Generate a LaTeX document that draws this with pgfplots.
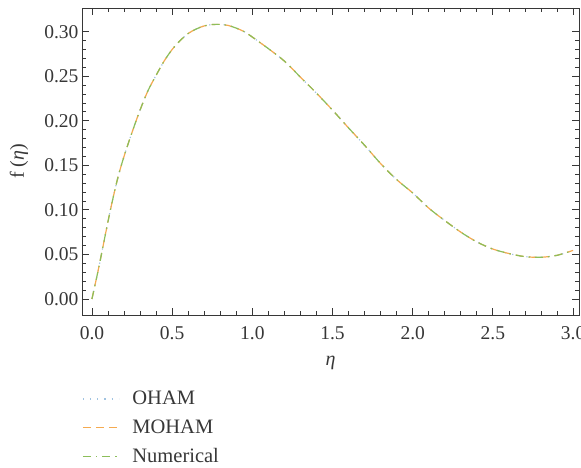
\documentclass[border=0pt]{standalone}
\usepackage{pgfplots}
\usepackage{pgfplotstable}
\pgfplotsset{compat=1.18}
\usepackage{fontspec}
\setmainfont{Liberation Serif}
\definecolor{ohamc}{RGB}{160,195,225}
\definecolor{mohamc}{RGB}{245,170,80}
\definecolor{numc}{RGB}{140,190,90}
\definecolor{axc}{RGB}{55,55,55}

\pgfplotstableread{
eta f
0.00 0.0000
0.04 0.0330
0.08 0.0690
0.12 0.1040
0.16 0.1350
0.20 0.1600
0.25 0.1870
0.30 0.2120
0.35 0.2340
0.40 0.2510
0.45 0.2670
0.50 0.2800
0.55 0.2900
0.60 0.2980
0.65 0.3030
0.70 0.3065
0.75 0.3080
0.80 0.3082
0.85 0.3070
0.90 0.3040
0.95 0.3000
1.00 0.2940
1.10 0.2810
1.20 0.2670
1.30 0.2490
1.40 0.2310
1.50 0.2120
1.60 0.1920
1.70 0.1725
1.80 0.1520
1.90 0.1340
2.00 0.1190
2.10 0.1020
2.20 0.0880
2.30 0.0750
2.40 0.0640
2.50 0.0560
2.60 0.0510
2.70 0.0475
2.80 0.0468
2.90 0.0490
3.00 0.0545
}\datatable

\begin{document}
\begin{tikzpicture}
\useasboundingbox (-82pt,-153pt) rectangle (499pt,315pt);
\begin{axis}[
  at={(0pt,0pt)}, anchor=south west,
  width=497pt, height=307pt, scale only axis,
  xmin=-0.062, xmax=3.037, ymin=-0.018, ymax=0.3266,
  xtick={0,0.5,1,1.5,2,2.5,3}, minor x tick num=4,
  ytick={0,0.05,0.10,0.15,0.20,0.25,0.30}, minor y tick num=4,
  tick align=inside,
  major tick length=7pt, minor tick length=4pt,
  xticklabel style={/pgf/number format/.cd, fixed, fixed zerofill, precision=1, /tikz/.cd, yshift=-8pt},
  yticklabel style={/pgf/number format/.cd, fixed, fixed zerofill, precision=2},
  /pgf/number format/assume math mode=true,
  scaled y ticks=false,
  tick label style={font=\fontsize{19.5}{22}\selectfont, text=axc},
  axis line style={axc, line width=0.8pt},
  every tick/.style={axc, line width=0.8pt},
  xlabel={\textit{η}}, ylabel={f (\textit{η})},
  label style={font=\fontsize{20}{22}\selectfont, text=axc},
  xlabel style={at={(axis description cs:0.5,-0.156)}, anchor=center},
  ylabel style={at={(axis description cs:-0.127,0.5)}, anchor=center},
  legend style={at={(axis description cs:0,-0.245)}, anchor=north west,
    draw=none, fill=none, inner sep=0pt, row sep=11.5pt,
    font=\fontsize{20.5}{22}\selectfont,
    nodes={inner sep=1pt},
    /tikz/every odd column/.append style={column sep=12pt}},
  legend cell align=left,
  legend image code/.code={\draw[#1] (0pt,0pt) -- (36pt,0pt);},
]
\addplot[ohamc, line width=1.2pt, dash pattern=on 1.2pt off 6pt, smooth] table[x=eta, y=f] {\datatable};
\addlegendentry{\textcolor{axc}{OHAM}}
\addplot[mohamc, line width=1.2pt, dash pattern=on 8pt off 5pt, smooth] table[x=eta, y=f] {\datatable};
\addlegendentry{\textcolor{axc}{MOHAM}}
\addplot[numc, line width=1.2pt, dash pattern=on 8pt off 5pt on 1.5pt off 5pt, smooth] table[x=eta, y=f] {\datatable};
\addlegendentry{\textcolor{axc}{Numerical}}
\end{axis}
\end{tikzpicture}
\end{document}
